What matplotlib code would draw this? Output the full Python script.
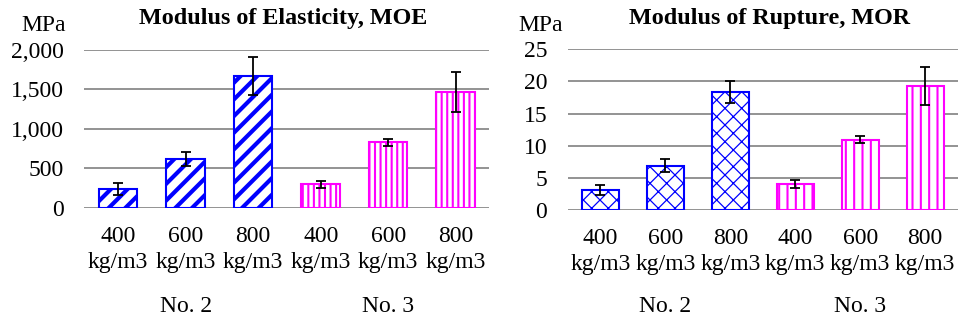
import matplotlib
matplotlib.use("Agg")
import matplotlib.pyplot as plt
import numpy as np

plt.rcParams['font.family'] = ['Liberation Serif', 'DejaVu Serif']

categories = ["400\nkg/m3", "600\nkg/m3", "800\nkg/m3", "400\nkg/m3", "600\nkg/m3", "800\nkg/m3"]
groups = ["No. 2", "No. 3"]

moe_values = [236, 618, 1666, 299, 829, 1468]
moe_errors = [77, 88, 240, 48, 43, 255]
mor_values = [3.1, 6.85, 18.3, 4.0, 10.9, 19.3]
mor_errors = [0.75, 1.0, 1.7, 0.6, 0.55, 2.95]

moe_ticks = [0, 500, 1000, 1500, 2000]
moe_ticklabels = ["0", "500", "1,000", "1,500", "2,000"]
mor_ticks = [0, 5, 10, 15, 20, 25]

BLUE = "#0000FF"
MAGENTA = "#FF00FF"

fig = plt.figure(figsize=(9.62, 3.22), dpi=100)
ax1 = fig.add_axes([0.0878, 0.354, 0.421, 0.492])
ax2 = fig.add_axes([0.5904, 0.348, 0.405, 0.499])


def draw(ax, values, errors, ticks, ticklabels, title, hatches, hlw, ymax, title_xy, mpa_xy):
    x = np.arange(len(values))
    colors = [BLUE] * 3 + [MAGENTA] * 3
    for i in range(len(values)):
        with plt.rc_context({'hatch.linewidth': hlw[i // 3]}):
            b = ax.bar(x[i], values[i], width=0.57, color='white', edgecolor=colors[i],
                       hatch=hatches[i // 3], linewidth=1.5, zorder=3)
            for p in b:
                if hasattr(p, 'set_hatch_linewidth'):
                    p.set_hatch_linewidth(hlw[i // 3])
    ax.errorbar(x, values, yerr=errors, fmt='none', ecolor='black', elinewidth=1.3,
                capsize=3.3, capthick=1.3, zorder=4)
    ax.set_xlim(-0.5, len(values) - 0.5)
    ax.set_ylim(0, ymax)
    ax.set_yticks(ticks)
    ax.set_yticklabels(ticklabels, fontsize=17)
    ax.set_xticks(x)
    ax.set_xticklabels(categories, fontsize=17, linespacing=1.3)
    ax.tick_params(axis='both', length=0)
    ax.tick_params(axis='y', pad=15)
    ax.tick_params(axis='x', pad=13)
    ax.grid(axis='y', color='#808080', linewidth=1.2, zorder=0)
    ax.set_axisbelow(True)
    for s in ax.spines.values():
        s.set_visible(False)
    ax.text(title_xy[0], title_xy[1], title, transform=ax.transAxes, ha='center', va='center',
            fontsize=17.4, fontweight='bold')
    ax.text(mpa_xy[0], mpa_xy[1], "MPa", transform=ax.transAxes, ha='center', va='center',
            fontsize=17)
    trans = matplotlib.transforms.blended_transform_factory(ax.transData, fig.transFigure)
    for gi, g in enumerate(groups):
        ax.text(x[gi * 3 + 1], 1 - 307 / 322, g, transform=trans, ha='center', va='center',
                fontsize=17)


draw(ax1, moe_values, moe_errors, moe_ticks, moe_ticklabels, "Modulus of Elasticity, MOE",
     ['//', '|||'], [3.0, 1.5], 2000, (0.49, 1.195), (-0.1, 1.155))
draw(ax2, mor_values, mor_errors, mor_ticks, [str(t) for t in mor_ticks], "Modulus of Rupture, MOR",
     ['xx', '||'], [0.9, 1.5], 25, (0.518, 1.19), (-0.071, 1.145))

fig.savefig("out.png", dpi=100)
